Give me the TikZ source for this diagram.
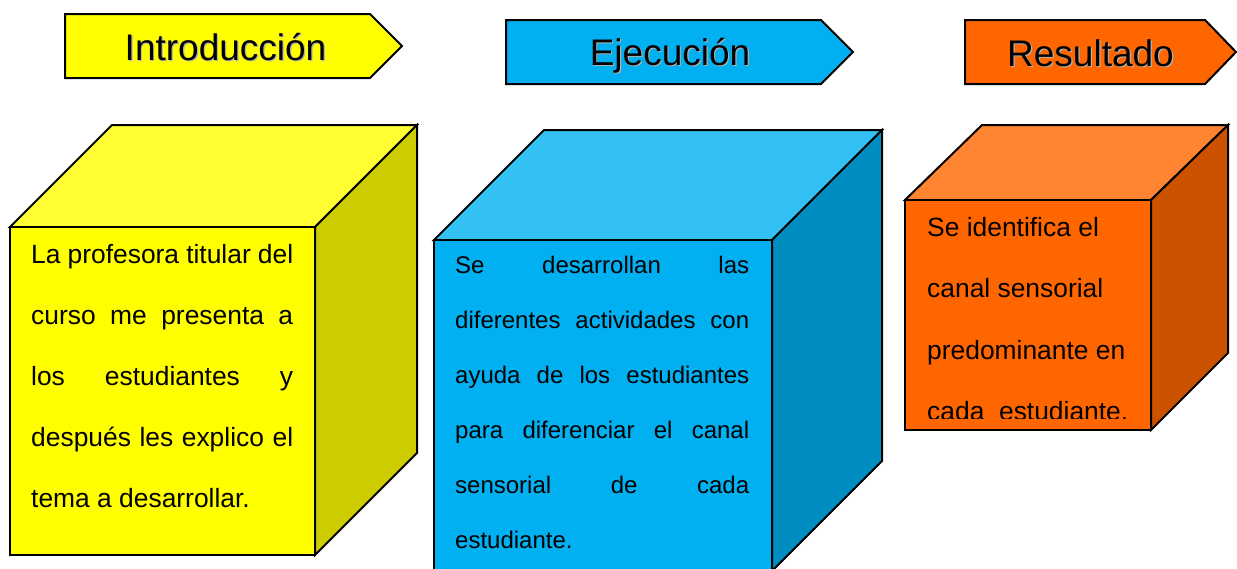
\documentclass[tikz,border=0pt]{standalone}
\usepackage{fontspec}
\setmainfont{Liberation Sans}
\definecolor{yfront}{HTML}{FFFF00}
\definecolor{ytop}{HTML}{FFFF33}
\definecolor{yside}{HTML}{CCCC00}
\definecolor{bfront}{HTML}{00B0F0}
\definecolor{btop}{HTML}{33C0F3}
\definecolor{bside}{HTML}{008DC0}
\definecolor{ofront}{HTML}{FF6600}
\definecolor{otop}{HTML}{FF8533}
\definecolor{oside}{HTML}{CC5200}
\tikzset{
  frame/.style={draw=black, line width=2pt, line join=miter},
  title/.style={font=\fontsize{37}{44}\selectfont, inner sep=0pt, anchor=base},
  titleshadow/.style={title, text=black!30},
  bodyA/.style={inner sep=0pt, anchor=base west, font=\fontsize{26.4}{30}\selectfont},
  bodyB/.style={inner sep=0pt, anchor=base west, font=\fontsize{24}{28}\selectfont}
}
\begin{document}
\begin{tikzpicture}[x=1pt,y=-1pt]
\clip (0,0) rectangle (1237,568);
\fill[white] (0,0) rectangle (1237,568);

% ---- header arrows ----
\path[frame, fill=yfront] (65,14) -- (370,14) -- (402,46) -- (370,78) -- (65,78) -- cycle;
\path[frame, fill=bfront] (506,20) -- (821,20) -- (853,52) -- (821,84) -- (506,84) -- cycle;
\path[frame, fill=ofront] (965,20) -- (1205,20) -- (1236,52) -- (1205,84) -- (965,84) -- cycle;

\node[titleshadow] (s1) at (226.7,61.2) {Introducción};
\node[title] (h1) at (225.5,60) {Introducción};
\node[titleshadow] (s2) at (671.2,66.2) {Ejecución};
\node[title] (h2) at (670,65) {Ejecución};
\node[titleshadow] (s3) at (1091.7,67.2) {Resultado};
\node[title] (h3) at (1090.5,66) {Resultado};

% ---- cube 1 (yellow) ----
\path[frame, fill=ytop] (10,227) -- (112,125) -- (417,125) -- (315,227) -- cycle;
\path[frame, fill=yside] (315,227) -- (417,125) -- (417,453) -- (315,555) -- cycle;
\path[frame, fill=yfront] (10,227) rectangle (315,555);

% ---- cube 2 (blue) ----
\path[frame, fill=btop] (434,240) -- (544,130) -- (882,130) -- (772,240) -- cycle;
\path[frame, fill=bside] (772,240) -- (882,130) -- (882,461) -- (772,571) -- cycle;
\path[frame, fill=bfront] (434,240) rectangle (772,571);

% ---- cube 3 (orange) ----
\path[frame, fill=otop] (905,200) -- (982,125) -- (1228,125) -- (1151,200) -- cycle;
\path[frame, fill=oside] (1151,200) -- (1228,125) -- (1228,353) -- (1151,430) -- cycle;
\path[frame, fill=ofront] (905,200) rectangle (1151,430);

% ---- text cube 1 ----
\node[bodyA] (a1) at (31,263.3) {\makebox[262pt][s]{La profesora titular del}};
\node[bodyA] (a2) at (31,324.4) {\makebox[262pt][s]{curso me presenta a}};
\node[bodyA] (a3) at (31,385.5) {\makebox[262pt][s]{los estudiantes y}};
\node[bodyA] (a4) at (31,446.6) {\makebox[262pt][s]{después les explico el}};
\node[bodyA] (a5) at (31,507.7) {tema a desarrollar.};

% ---- text cube 2 ----
\node[bodyB] (b1) at (455,273.3) {\makebox[294pt][s]{Se desarrollan las}};
\node[bodyB] (b2) at (455,328.4) {\makebox[294pt][s]{diferentes actividades con}};
\node[bodyB] (b3) at (455,383.5) {\makebox[294pt][s]{ayuda de los estudiantes}};
\node[bodyB] (b4) at (455,438.6) {\makebox[294pt][s]{para diferenciar el canal}};
\node[bodyB] (b5) at (455,493.7) {\makebox[294pt][s]{sensorial de cada}};
\node[bodyB] (b6) at (455,548.8) {estudiante.};

% ---- text cube 3 ----
\begin{scope}
\clip (905,200) rectangle (1151,418.5);
\node[bodyA] (c1) at (927,236.7) {Se identifica el};
\node[bodyA] (c2) at (927,297.9) {canal sensorial};
\node[bodyA] (c3) at (927,359.1) {predominante en};
\node[bodyA] (c4) at (927,420.3) {cada~\ estudiante.};
\end{scope}
\end{tikzpicture}
\end{document}
